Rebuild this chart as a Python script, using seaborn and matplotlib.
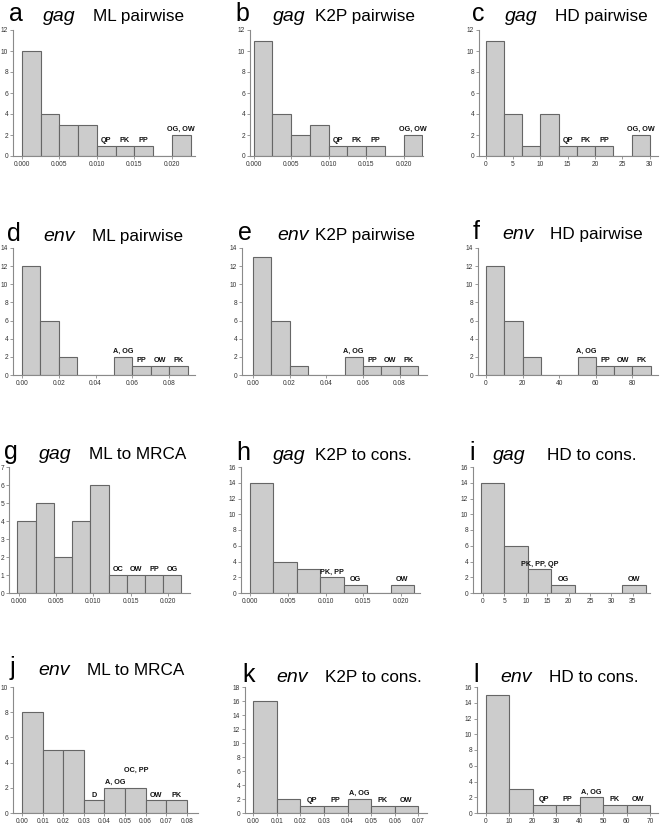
import numpy as np
import pandas as pd
import matplotlib
matplotlib.use("Agg")
import matplotlib.pyplot as plt
import seaborn as sns

sns.set_style("white")
plt.rcParams['font.family'] = ['Liberation Sans', 'DejaVu Sans']

# ---------------- data ----------------
panel_letters = ["a", "b", "c", "d", "e", "f", "g", "h", "i", "j", "k", "l"]
panel_genes = ["gag", "gag", "gag", "env", "env", "env", "gag", "gag", "gag", "env", "env", "env"]
panel_methods = ["ML pairwise", "K2P pairwise", "HD pairwise",
                 "ML pairwise", "K2P pairwise", "HD pairwise",
                 "ML to MRCA", "K2P to cons.", "HD to cons.",
                 "ML to MRCA", "K2P to cons.", "HD to cons."]

# bin start and bin width for each panel
bin_start = [0.0, 0.0, 0.0, 0.0, 0.0, 0.0, -0.0002, 0.0, -0.5, 0.0, 0.0, 0.0]
bin_width = [0.0025, 0.0025, 10 / 3, 0.01, 0.01, 10, 0.00245, 0.0031, 5.5, 0.01, 0.01, 10]

a_counts = [10, 4, 3, 3, 1, 1, 1, 0, 2]
b_counts = [11, 4, 2, 3, 1, 1, 1, 0, 2]
c_counts = [11, 4, 1, 4, 1, 1, 1, 0, 2]
abc_labels = ["", "", "", "", "QP", "PK", "PP", "", "OG, OW"]

d_counts = [12, 6, 2, 0, 0, 2, 1, 1, 1]
e_counts = [13, 6, 1, 0, 0, 2, 1, 1, 1]
f_counts = [12, 6, 2, 0, 0, 2, 1, 1, 1]
def_labels = ["", "", "", "", "", "A, OG", "PP", "OW", "PK"]

g_counts = [4, 5, 2, 4, 6, 1, 1, 1, 1]
g_labels = ["", "", "", "", "", "OC", "OW", "PP", "OG"]
h_counts = [14, 4, 3, 2, 1, 0, 1]
h_labels = ["", "", "", "PK, PP", "OG", "", "OW"]
i_counts = [14, 6, 3, 1, 0, 0, 1]
i_labels = ["", "", "PK, PP, QP", "OG", "", "", "OW"]

j_counts = [8, 5, 5, 1, 2, 2, 1, 1]
j_labels = ["", "", "", "D", "A, OG", "OC, PP", "OW", "PK"]
k_counts = [16, 2, 1, 1, 2, 1, 1]
l_counts = [15, 3, 1, 1, 2, 1, 1]
kl_labels = ["", "", "QP", "PP", "A, OG", "PK", "OW"]

all_counts = [a_counts, b_counts, c_counts, d_counts, e_counts, f_counts,
              g_counts, h_counts, i_counts, j_counts, k_counts, l_counts]
all_labels = [abc_labels, abc_labels, abc_labels, def_labels, def_labels, def_labels,
              g_labels, h_labels, i_labels, j_labels, kl_labels, kl_labels]

# axis ticks
x_ticks = [
    [0, 0.005, 0.010, 0.015, 0.020],
    [0, 0.005, 0.010, 0.015, 0.020],
    [0, 5, 10, 15, 20, 25, 30],
    [0, 0.02, 0.04, 0.06, 0.08],
    [0, 0.02, 0.04, 0.06, 0.08],
    [0, 20, 40, 60, 80],
    [0, 0.005, 0.010, 0.015, 0.020],
    [0, 0.005, 0.010, 0.015, 0.020],
    [0, 5, 10, 15, 20, 25, 30, 35],
    [0, 0.01, 0.02, 0.03, 0.04, 0.05, 0.06, 0.07, 0.08],
    [0, 0.01, 0.02, 0.03, 0.04, 0.05, 0.06, 0.07],
    [0, 10, 20, 30, 40, 50, 60, 70],
]
x_fmt = ["%.3f", "%.3f", "%d", "%.2f", "%.2f", "%d", "%.3f", "%.3f", "%d", "%.2f", "%.2f", "%d"]
y_max = [12, 12, 12, 14, 14, 14, 7, 16, 16, 10, 18, 16]
y_step = [2, 2, 2, 2, 2, 2, 1, 2, 2, 2, 2, 2]

# ---------------- layout (pixels) ----------------
W, H = 661, 825
# left, right, top, bottom of each axes
ax_px = [
    (13, 195, 30, 156), (250, 423, 30, 156), (479, 658, 30, 156),
    (13, 195, 248, 375), (242, 427, 248, 375), (478, 658, 248, 375),
    (9, 190, 467, 593), (241, 420, 467, 593), (473, 650, 467, 593),
    (13, 198, 687, 813), (245, 427, 687, 813), (477, 658, 687, 813),
]
x_lims = [
    (-0.0012, 0.0231), (-0.00047, 0.0226), (-1.2, 31.5),
    (-0.0049, 0.094), (-0.006, 0.095), (-4.4, 94),
    (-0.00134, 0.023), (-0.0012, 0.0225), (-2.3, 39),
    (-0.0044, 0.0854), (-0.0035, 0.0737), (-3.7, 73.4),
]
# title x positions: letter, gene, method; baseline y
title_px = [
    (9, 43, 93, 21), (235, 273, 315, 21), (472, 505, 555, 21),
    (7, 43, 92, 241), (238, 277, 315, 240), (473, 502, 550, 239),
    (4, 39, 89, 459), (236, 273, 315, 460), (469, 493, 547, 460),
    (10, 38, 87, 675), (242, 276, 325, 682), (473, 500, 549, 682),
]
extra_raise = {(9, 5): 9.0}  # raised label in panel j (pt)

BAR = "#cccccc"
EDGE = "#666666"
SPINE = "#8a8a8a"

fig = plt.figure(figsize=(W / 100, H / 100), dpi=100)

for p in range(12):
    l, r, t, b = ax_px[p]
    ax = fig.add_axes([l / W, 1 - b / H, (r - l) / W, (b - t) / H])
    counts = np.array(all_counts[p], dtype=float)
    n = len(counts)
    edges = bin_start[p] + bin_width[p] * np.arange(n + 1)
    centers = (edges[:-1] + edges[1:]) / 2
    df = pd.DataFrame({"value": centers, "count": counts})
    sns.histplot(data=df, x="value", weights="count", bins=list(edges), ax=ax,
                 color=BAR, edgecolor=EDGE, linewidth=0.8, alpha=1)
    ax.set_xlim(*x_lims[p])
    ax.set_ylim(0, y_max[p])
    ax.set_ylabel("")
    ax.set_xlabel("")
    ax.set_xticks(x_ticks[p])
    ax.set_xticklabels([x_fmt[p] % v for v in x_ticks[p]])
    yt = np.arange(0, y_max[p] + 0.1, y_step[p])
    ax.set_yticks(yt)
    ax.set_yticklabels([str(int(v)) for v in yt])
    for s in ["top", "right"]:
        ax.spines[s].set_visible(False)
    for s in ["left", "bottom"]:
        ax.spines[s].set_color(SPINE)
        ax.spines[s].set_linewidth(0.8)
    ax.tick_params(axis="both", labelsize=4.8, colors=SPINE, labelcolor="#333333",
                   length=2, width=0.6, pad=1.5, direction="out",
                   bottom=True, left=True)
    ax.patch.set_alpha(0)
    for bi, lab in enumerate(all_labels[p]):
        if lab:
            off = 2.7 + extra_raise.get((p, bi), 0.0)
            xc = centers[bi] + (0.0006 if (p, bi) in extra_raise else 0.0)
            ax.annotate(lab, (xc, counts[bi]), xytext=(0, off),
                        textcoords="offset points", ha="center", va="baseline",
                        fontsize=5.2, fontweight="bold", color="#111111")

    lx, gx, mx, by = title_px[p]
    fig.text(lx / W, 1 - by / H, panel_letters[p], fontsize=18, va="baseline",
             ha="left", color="black")
    fig.text(gx / W, 1 - by / H, panel_genes[p], fontsize=14, style="italic",
             va="baseline", ha="left", color="black")
    fig.text(mx / W, 1 - by / H, panel_methods[p], fontsize=12.3, va="baseline",
             ha="left", color="black")

fig.savefig("out.png", dpi=100)
